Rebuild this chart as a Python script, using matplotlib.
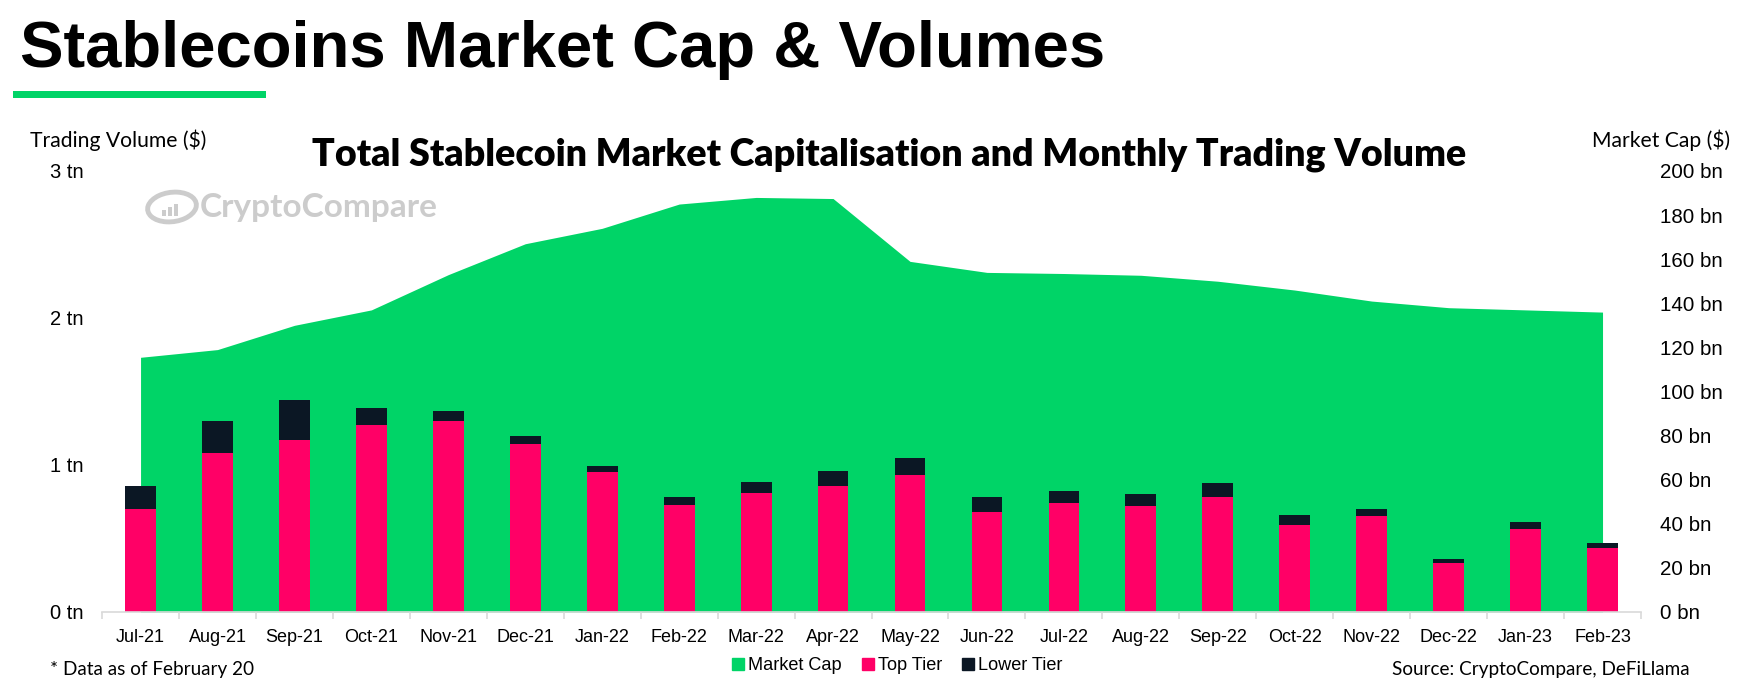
import matplotlib.pyplot as plt
from matplotlib.patches import Ellipse, Rectangle
from matplotlib.lines import Line2D

months = ['Jul-21', 'Aug-21', 'Sep-21', 'Oct-21', 'Nov-21', 'Dec-21', 'Jan-22',
          'Feb-22', 'Mar-22', 'Apr-22', 'May-22', 'Jun-22', 'Jul-22', 'Aug-22',
          'Sep-22', 'Oct-22', 'Nov-22', 'Dec-22', 'Jan-23', 'Feb-23']

# market cap, bn $
market_cap = [115.5, 119, 130, 137, 153, 167, 174, 185, 188, 187.5,
              159, 154, 153.5, 152.7, 150, 146, 141, 138, 137, 136]

# monthly trading volume, tn $
top_tier = [0.70, 1.08, 1.17, 1.27, 1.30, 1.14, 0.95, 0.73, 0.81, 0.855,
            0.93, 0.68, 0.74, 0.72, 0.78, 0.595, 0.65, 0.33, 0.565, 0.435]
total_vol = [0.86, 1.30, 1.44, 1.39, 1.37, 1.20, 0.99, 0.78, 0.885, 0.96,
             1.05, 0.78, 0.82, 0.80, 0.88, 0.66, 0.70, 0.36, 0.61, 0.47]
lower_tier = [t - p for t, p in zip(total_vol, top_tier)]

left_ticks = [0, 1, 2, 3]
left_labels = ['0 tn', '1 tn', '2 tn', '3 tn']
right_ticks = list(range(0, 201, 20))
right_labels = [f'{v} bn' for v in right_ticks]

GREEN = '#00d467'
PINK = '#ff0066'
NAVY = '#0b1724'
GRAY = '#d9d9d9'
WM = '#cccccc'
ARIAL = 'Liberation Sans'
GEO = 'Lato'

fig = plt.figure(figsize=(17.63, 6.85), dpi=100)
ax = fig.add_axes([0.0579, 0.1066, 0.8729, 0.6438])
ax2 = ax.twinx()

x = list(range(len(months)))

# market cap area on right scale
ax2.fill_between(x, 0, market_cap, color=GREEN, linewidth=0)
ax2.set_ylim(0, 200)
ax2.set_yticks(right_ticks)
ax2.set_yticklabels(right_labels, fontfamily=ARIAL, fontsize=14.8)
ax2.tick_params(axis='y', length=0, pad=13.5)
for s in ax2.spines.values():
    s.set_visible(False)

# stacked volume bars on left scale, drawn over the area
ax.set_zorder(ax2.get_zorder() + 1)
ax.patch.set_visible(False)
ax.bar(x, top_tier, width=0.4, color=PINK, linewidth=0)
ax.bar(x, lower_tier, width=0.4, bottom=top_tier, color=NAVY, linewidth=0)
ax.set_ylim(0, 3)
ax.set_xlim(-0.5, len(months) - 0.5)
ax.set_yticks(left_ticks)
ax.set_yticklabels(left_labels, fontfamily=ARIAL, fontsize=14.5)
ax.tick_params(axis='y', length=0, pad=13.5)
ax.set_xticks(x)
ax.set_xticklabels(months, fontfamily=ARIAL, fontsize=13)
ax.set_xticks([i + 0.5 for i in range(-1, len(months))], minor=True)
ax.tick_params(axis='x', which='major', length=0, pad=12)
ax.tick_params(axis='x', which='minor', length=5, color=GRAY, width=1.2)
for name, s in ax.spines.items():
    s.set_visible(name == 'bottom')
ax.spines['bottom'].set_color(GRAY)
ax.spines['bottom'].set_linewidth(1.2)

# headings
fig.text(0.0113, 1 - 50 / 685, 'Stablecoins Market Cap & Volumes', fontfamily=ARIAL,
         fontweight='bold', fontsize=47, va='center', ha='left')
fig.add_artist(Rectangle((13 / 1763, 1 - 98 / 685), 253 / 1763, 7 / 685,
                         transform=fig.transFigure, color=GREEN, linewidth=0))
fig.text(889 / 1763, 1 - 155 / 685,
         'Total Stablecoin Market Capitalisation and Monthly Trading Volume',
         fontfamily=GEO, fontweight='heavy', fontsize=27, ha='center', va='center')
fig.text(30 / 1763, 1 - 140 / 685, 'Trading Volume ($)', fontfamily=GEO,
         fontsize=15.2, ha='left', va='center')
fig.text(1730 / 1763, 1 - 140 / 685, 'Market Cap ($)', fontfamily=GEO,
         fontsize=15.2, ha='right', va='center')

# watermark: ring logo with a tiny bar chart, then the name
fig.add_artist(Ellipse((172 / 1763, 1 - 207 / 685), 48 / 1763, 30 / 685, angle=-8,
                       transform=fig.transFigure, fill=False,
                       edgecolor=WM, linewidth=3.5))
for i, h in enumerate([6, 9, 12]):
    fig.add_artist(Rectangle(((162 + i * 6) / 1763, 1 - 216 / 685), 4 / 1763, h / 685,
                             transform=fig.transFigure, color=WM, linewidth=0))
fig.text(200 / 1763, 1 - 207 / 685, 'CryptoCompare', fontfamily=GEO,
         fontweight='bold', fontsize=24, color=WM, ha='left', va='center')

# footer
fig.text(50 / 1763, 1 - 670 / 685, '* Data as of February 20', fontfamily=GEO,
         fontsize=13.6, ha='left', va='center')
fig.text(1690 / 1763, 1 - 670 / 685, 'Source: CryptoCompare, DeFiLlama',
         fontfamily=GEO, fontsize=13.6, ha='right', va='center')

handles = [Line2D([], [], marker='s', linestyle='none', markersize=8, color=c)
           for c in (GREEN, PINK, NAVY)]
fig.legend(handles, ['Market Cap', 'Top Tier', 'Lower Tier'], loc='center',
           bbox_to_anchor=(896 / 1763, 1 - 666 / 685), ncol=3, frameon=False,
           prop={'family': ARIAL, 'size': 13.1}, handletextpad=0.1,
           columnspacing=1.0, handlelength=0.9)

plt.savefig('out.png', dpi=100)
